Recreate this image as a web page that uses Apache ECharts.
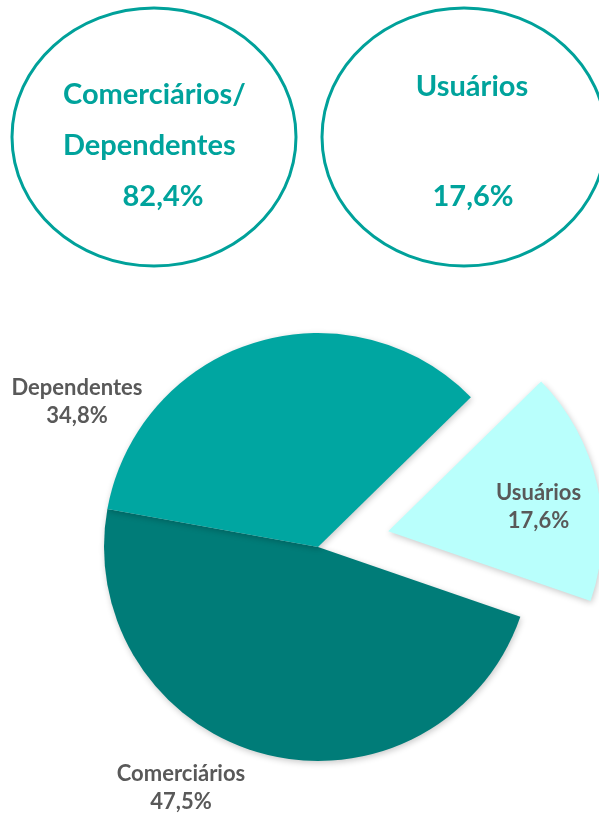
<!DOCTYPE html>
<html>
<head>
<meta charset="utf-8">
<script src="https://cdn.jsdelivr.net/npm/echarts@6/dist/echarts.min.js"></script>
<style>
html,body{margin:0;padding:0;background:#fff;}
#chart{width:599px;height:814px;}
</style>
</head>
<body>
<div id="chart"></div>
<script>
// ---- data ----
const categories = ['Usuários', 'Comerciários', 'Dependentes'];
const values = [17.6, 47.5, 34.8];
const sliceColors = ['#B9FFFC', '#007C78', '#00A6A1'];
const exploded = ['Usuários'];

const groupLabels = [['Comerciários/', 'Dependentes'], ['Usuários']];
const groupValues = [82.4, 17.6];

// ---- layout / style ----
const labelPos = { 'Comerciários': [181, 788], 'Dependentes': [77, 402] };
const labelPadding = { 'Usuários': [4, 0, 0, 86] };
const fmt = v => v.toFixed(1).replace('.', ',') + '%';
const teal = '#00A39C';
const titleFont = { fontFamily: 'Lato', fontWeight: 'bold', fontSize: 29, fill: teal };

const chart = echarts.init(document.getElementById('chart'), null, { renderer: 'canvas' });

const graphics = [
  { type: 'ellipse', shape: { cx: 154, cy: 137, rx: 142, ry: 129 }, style: { fill: 'none', stroke: '#00A19A', lineWidth: 3 } },
  { type: 'ellipse', shape: { cx: 464, cy: 137, rx: 142, ry: 129 }, style: { fill: 'none', stroke: '#00A19A', lineWidth: 3 } },
  { type: 'text', x: 63, y: 109, style: Object.assign({ text: groupLabels[0][0], textAlign: 'left', textVerticalAlign: 'bottom' }, titleFont) },
  { type: 'text', x: 63, y: 160, style: Object.assign({ text: groupLabels[0][1], textAlign: 'left', textVerticalAlign: 'bottom' }, titleFont) },
  { type: 'text', x: 163, y: 211, style: Object.assign({ text: fmt(groupValues[0]), textAlign: 'center', textVerticalAlign: 'bottom' }, titleFont) },
  { type: 'text', x: 472, y: 101, style: Object.assign({ text: groupLabels[1][0], textAlign: 'center', textVerticalAlign: 'bottom' }, titleFont) },
  { type: 'text', x: 473, y: 211, style: Object.assign({ text: fmt(groupValues[1]), textAlign: 'center', textVerticalAlign: 'bottom' }, titleFont) }
];

chart.setOption({
  animation: false,
  graphic: graphics,
  series: [{
    type: 'pie',
    center: [318, 547],
    radius: 214,
    startAngle: 44.4,
    clockwise: true,
    selectedMode: 'single',
    selectedOffset: 72,
    avoidLabelOverlap: false,
    data: categories.map((c, i) => {
      const item = {
        name: c,
        value: values[i],
        selected: exploded.includes(c),
        itemStyle: { color: sliceColors[i] }
      };
      if (labelPadding[c]) item.label = { padding: labelPadding[c] };
      return item;
    }),
    itemStyle: {
      shadowBlur: 6,
      shadowColor: 'rgba(0,0,0,0.22)',
      shadowOffsetX: 1,
      shadowOffsetY: 2
    },
    label: {
      show: true,
      position: 'inside',
      formatter: p => p.name + '\n' + fmt(p.value),
      fontFamily: 'Lato',
      fontWeight: 'bold',
      fontSize: 22,
      lineHeight: 28,
      color: '#595959',
      align: 'center'
    },
    labelLine: { show: false },
    labelLayout: p => {
      const pos = labelPos[categories[p.dataIndex]];
      if (!pos) return {};
      return { x: pos[0], y: pos[1], align: 'center', verticalAlign: 'middle' };
    },
    emphasis: { disabled: true }
  }]
});
</script>
</body>
</html>
